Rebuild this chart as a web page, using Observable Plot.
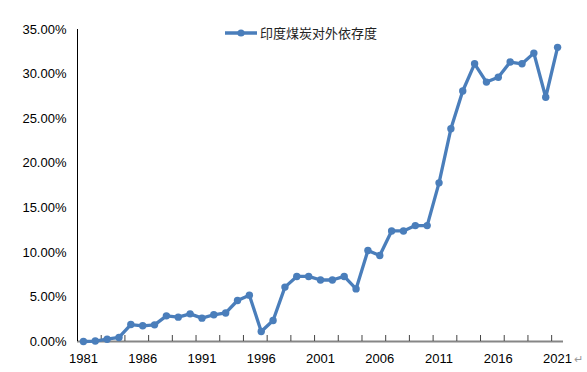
<!DOCTYPE html>
<html><head><meta charset="utf-8">
<script src="https://cdn.jsdelivr.net/npm/d3@7"></script>
<script src="https://cdn.jsdelivr.net/npm/@observablehq/plot@0.6"></script>
<style>
body{margin:0;background:#fff;}
#wrap{position:relative;width:587px;height:372px;font-family:"Liberation Sans",Arial,sans-serif;}
#legend{position:absolute;left:225px;top:24px;display:flex;align-items:center;font-family:"Noto Sans CJK SC",sans-serif;font-size:13px;color:#222;line-height:18px;}
#mark{position:absolute;left:574px;top:353px;font-size:11px;color:#999;}
</style></head><body>
<div id="wrap"></div>
<script>
const years = [1981,1982,1983,1984,1985,1986,1987,1988,1989,1990,1991,1992,1993,1994,1995,1996,1997,1998,1999,2000,2001,2002,2003,2004,2005,2006,2007,2008,2009,2010,2011,2012,2013,2014,2015,2016,2017,2018,2019,2020,2021];
const values = [0.0,0.05,0.26,0.45,1.9,1.76,1.87,2.88,2.73,3.1,2.62,3.0,3.2,4.6,5.2,1.12,2.36,6.1,7.3,7.3,6.9,6.9,7.3,5.9,10.2,9.65,12.4,12.4,13.0,13.0,17.8,23.86,28.1,31.15,29.1,29.65,31.35,31.15,32.35,27.4,33.0];
const seriesName = "印度煤炭对外依存度";
const yTicks = [0,5,10,15,20,25,30,35];
const xLabels = [1981,1986,1991,1996,2001,2006,2011,2016,2021];
const color = "#4A7EBB";

const data = years.map((y,i)=>({year:y, v:values[i]}));
const boundaries = d3.range(years[0]-0.5, years[years.length-1]+0.6, 2);

const wrap = document.getElementById("wrap");
const chart = Plot.plot({
  width:587, height:372, marginLeft:77, marginRight:24, marginTop:29, marginBottom:31,
  style:{fontFamily:"'Liberation Sans', Arial, sans-serif", fontSize:"13px", color:"#000", background:"#fff", overflow:"visible"},
  x:{type:"linear", domain:[years[0]-0.5, years[years.length-1]+0.5]},
  y:{domain:[0,35]},
  marks:[
    Plot.axisY({ticks:yTicks, tickSize:0, tickPadding:11, tickFormat:d=>d.toFixed(2)+"%", label:null, fill:"#000"}),
    Plot.axisX({ticks:xLabels, tickSize:0, tickPadding:12, tickFormat:d=>String(d), label:null, fill:"#000"}),
    Plot.ruleY([0], {stroke:"#868686", strokeWidth:2}),
    Plot.ruleX(boundaries, {y1:0, y2:0, insetTop:-6, stroke:"#444", strokeWidth:1}),
    Plot.ruleX([years[0]-0.5], {stroke:"#000", strokeWidth:1}),
    Plot.line(data, {x:"year", y:"v", stroke:color, strokeWidth:3.3}),
    Plot.dot(data, {x:"year", y:"v", r:3.7, fill:color, stroke:"none"})
  ]
});
wrap.appendChild(chart);

const legend = document.createElement("div");
legend.id = "legend";
legend.innerHTML = `<svg width="32" height="10"><line x1="0" y1="5" x2="32" y2="5" stroke="${color}" stroke-width="3.5"/><circle cx="16" cy="5" r="3.6" fill="${color}"/></svg><span style="margin-left:3px">${seriesName}</span>`;
wrap.appendChild(legend);
const mk = document.createElement("div");
mk.id = "mark"; mk.textContent = "↵";
wrap.appendChild(mk);
</script>
</body></html>
